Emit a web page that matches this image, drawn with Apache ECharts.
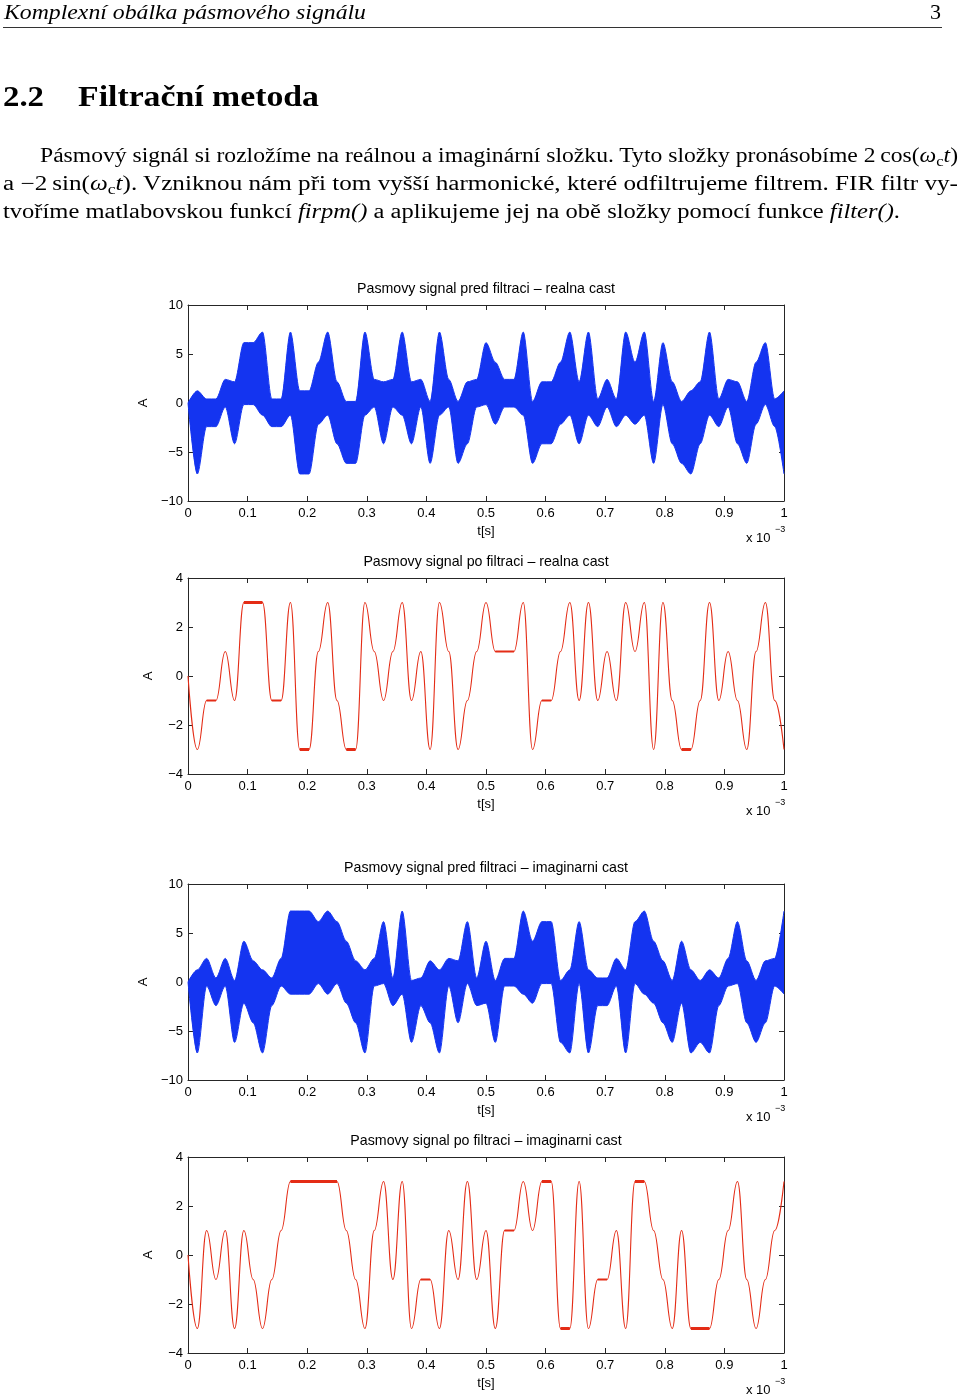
<!DOCTYPE html>
<html><head><meta charset="utf-8">
<script src="https://cdn.jsdelivr.net/npm/echarts@6/dist/echarts.min.js"></script>
<style>
html,body{margin:0;padding:0;background:#fff;}
#page{position:relative;width:960px;height:1396px;overflow:hidden;background:#fff;}
#chart{position:absolute;left:0;top:0;width:960px;height:1396px;}
.t{position:absolute;white-space:nowrap;font-family:"Liberation Serif","DejaVu Serif",serif;color:#000;line-height:1;}
.t sub{font-size:70%;vertical-align:-0.25em;line-height:0;}
</style></head>
<body><div id="page"><div id="chart"></div>
<div class="t" id="hdr" style="font-style:italic">Komplexní obálka pásmového signálu</div>
<div class="t" id="pnum">3</div>
<div id="rule" style="position:absolute;left:3px;top:27px;width:939px;height:1px;background:#333"></div>
<div class="t" id="secnum" style="font-weight:bold">2.2</div>
<div class="t" id="sectitle" style="font-weight:bold">Filtrační metoda</div>
<div class="t" id="p1">Pásmový signál si rozložíme na reálnou a imaginární složku. Tyto složky pronásobíme 2&#8201;cos(<i>ω</i><sub>c</sub><i>t</i>)</div>
<div class="t" id="p2">a −2&#8201;sin(<i>ω</i><sub>c</sub><i>t</i>). Vzniknou nám při tom vyšší harmonické, které odfiltrujeme filtrem. FIR filtr vy-</div>
<div class="t" id="p3">tvoříme matlabovskou funkcí <i>firpm()</i> a aplikujeme jej na obě složky pomocí funkce <i>filter()</i>.</div>
</div>
<script>
// ---------------- DATA ----------------
// symbol instants (x axis in units of 1e-3 s), 64 symbols per ms, index 0 = start
const symbolCount = 64;
// filtered real part (I) at each symbol instant
const realSymbols = [0,
 -3,-1,-1, 1,-1, 3, 3, 3,-1,-1, 3,-3,-3, 1, 3,-1,
 -3,-3, 3, 1,-1, 1, 3,-1, 1,-3, 3, 1,-3,-1, 1, 3,
  1, 1, 1, 3,-3,-1,-1, 1, 3,-1, 3,-1, 1,-1, 3, 1,
  3,-3, 3,-1,-3,-3,-1, 3,-1, 1,-1,-3, 1, 3,-1,-3];
// filtered imaginary part (Q) at each symbol instant
const imagSymbols = [0,
 -3, 1,-1, 1,-3, 1,-1,-3,-1, 1, 3, 3, 3, 3, 3, 3,
  1,-1,-3, 1, 3,-1, 3,-3,-1,-1,-3, 1,-1, 3,-1, 1,
 -3, 1, 1, 3, 1, 3, 3,-3,-3, 3,-3,-1,-1, 1,-3, 3,
  3, 1,-1,-3, 1,-3,-3,-3,-1, 1, 3,-1,-3,-1, 1, 3];
// band signal before filtering, real part: upper / lower edge of the filled band
const realUpper = [0,
 1.24,0.41,0.41,2.41,2.16,6.16,6.16,7.24,0.41,0.41,7.24,1.24,1.24,4.16,7.24,2.16,
 0.16,0.16,7.24,2.41,2.16,2.41,7.24,2.16,2.41,0.16,7.24,2.41,0.16,2.16,2.41,6.16,
 4.16,2.41,2.41,7.24,0.16,2.16,2.16,4.16,7.24,2.16,7.24,0.41,2.41,0.41,7.24,4.16,
 7.24,0.16,6.16,2.16,0.16,1.24,2.16,7.24,0.41,2.41,2.16,0.16,4.16,6.16,0.41,1.24];
const realLower = [0,
 -7.24,-2.41,-2.41,-0.41,-4.16,-0.16,-0.16,-1.24,-2.41,-2.41,-1.24,-7.24,-7.24,-2.16,-1.24,-4.16,
 -6.16,-6.16,-1.24,-0.41,-4.16,-0.41,-1.24,-4.16,-0.41,-6.16,-1.24,-0.41,-6.16,-4.16,-0.41,-0.16,
 -2.16,-0.41,-0.41,-1.24,-6.16,-4.16,-4.16,-2.16,-1.24,-4.16,-1.24,-2.41,-0.41,-2.41,-1.24,-2.16,
 -1.24,-6.16,-0.16,-4.16,-6.16,-7.24,-4.16,-1.24,-2.41,-0.41,-4.16,-6.16,-2.16,-0.16,-2.41,-7.24];
// band signal before filtering, imaginary part
const imagUpper = [0,
 1.24,2.41,0.41,2.41,0.16,4.16,2.16,1.24,0.41,2.41,7.24,7.24,7.24,6.16,7.24,6.16,
 4.16,2.16,1.24,2.41,6.16,0.41,7.24,0.16,0.41,2.16,1.24,2.41,2.16,6.16,0.41,4.16,
 0.16,2.41,2.41,7.24,4.16,6.16,6.16,0.16,1.24,6.16,1.24,0.41,0.41,2.41,1.24,6.16,
 7.24,4.16,2.16,0.16,4.16,1.24,0.16,1.24,0.41,2.41,6.16,2.16,0.16,2.16,2.41,7.24];
const imagLower = [0,
 -7.24,-0.41,-2.41,-0.41,-6.16,-2.16,-4.16,-7.24,-2.41,-0.41,-1.24,-1.24,-1.24,-0.16,-1.24,-0.16,
 -2.16,-4.16,-7.24,-0.41,-0.16,-2.41,-1.24,-6.16,-2.41,-4.16,-7.24,-0.41,-4.16,-0.16,-2.41,-2.16,
 -6.16,-0.41,-0.41,-1.24,-2.16,-0.16,-0.16,-6.16,-7.24,-0.16,-7.24,-2.41,-2.41,-0.41,-7.24,-0.16,
 -1.24,-2.16,-4.16,-6.16,-2.16,-7.24,-6.16,-7.24,-2.41,-0.41,-0.16,-4.16,-6.16,-4.16,-0.41,-1.24];
// axis ticks
const xAxisTicks = {min: 0, max: 1, interval: 0.1};
const yTicksBand = {min: -10, max: 10, interval: 5};
const yTicksFiltered = {min: -4, max: 4, interval: 2};
const plotTitles = [
  'Pasmovy signal pred filtraci – realna cast',
  'Pasmovy signal po filtraci – realna cast',
  'Pasmovy signal pred filtraci – imaginarni cast',
  'Pasmovy signal po filtraci – imaginarni cast'];
const xName = 't[s]';
const yName = 'A';

// ---------------- PAGE TEXT ----------------
function place(id, left, baseline, size, width) {
  const el = document.getElementById(id);
  el.style.transform = '';
  el.style.fontSize = size + 'px';
  el.style.left = left + 'px';
  el.style.top = (baseline - 0.8375 * size) + 'px';
  const nat = el.getBoundingClientRect().width;
  el.style.transformOrigin = '0 0';
  el.style.transform = 'scaleX(' + (width / nat) + ')';
}
function layoutText() {
  place('hdr', 4, 19.5, 21, 362);
  place('pnum', 930, 19.5, 21, 11);
  place('secnum', 3, 106, 30, 41);
  place('sectitle', 78, 106, 30, 241);
  place('p1', 40, 162, 20.5, 918);
  place('p2', 3, 190, 20.5, 955);
  place('p3', 3, 218.5, 20.5, 897);
}

// ---------------- CHART ----------------
const chart = echarts.init(document.getElementById('chart'), null, {renderer: 'canvas'});
const gridTops = [305, 578, 884, 1157];
const gridLeft = 188, gridW = 596, gridH = 196;
const ink = '#262626';
const sans = '"Liberation Sans", Arial, Helvetica, sans-serif';
const minus = v => String(Math.round(v * 10) / 10).replace('-', '−');
const times = realSymbols.map((_, k) => k / symbolCount);
const pts = arr => arr.map((v, k) => [times[k], v]);
// segments where the filtered signal holds the same symbol (drawn with residual ripple, thicker)
function holdSegments(arr, absLevel) {
  const out = [];
  for (let k = 1; k < arr.length - 1; k++) {
    if (arr[k] === arr[k + 1] && Math.abs(arr[k]) === absLevel) {
      out.push([times[k], arr[k]], [times[k + 1], arr[k + 1]], [null, null]);
    }
  }
  return out;
}

const grids = [], xAxes = [], yAxes = [], series = [], graphics = [];
const yTicksPerPlot = [yTicksBand, yTicksFiltered, yTicksBand, yTicksFiltered];
gridTops.forEach((top, i) => {
  grids.push({left: gridLeft, top: top, width: gridW, height: gridH, containLabel: false});
  const line = {show: true, onZero: false, lineStyle: {color: ink, width: 1}};
  const tick = {show: true, inside: true, length: 5, lineStyle: {color: ink, width: 1}};
  xAxes.push({type: 'value', gridIndex: i, position: 'bottom', ...xAxisTicks,
    axisLine: line, axisTick: tick, splitLine: {show: false},
    axisLabel: {margin: 6, color: '#000', fontFamily: sans, fontSize: 13, formatter: minus},
    name: xName, nameLocation: 'middle', nameGap: 24,
    nameTextStyle: {color: '#000', fontFamily: sans, fontSize: 13}});
  xAxes.push({type: 'value', gridIndex: i, position: 'top', ...xAxisTicks,
    axisLine: line, axisTick: tick, splitLine: {show: false}, axisLabel: {show: false}});
  const yt = yTicksPerPlot[i];
  yAxes.push({type: 'value', gridIndex: i, position: 'left', ...yt,
    axisLine: line, axisTick: tick, splitLine: {show: false},
    axisLabel: {margin: 5, color: '#000', fontFamily: sans, fontSize: 13, formatter: minus},
    name: yName, nameLocation: 'middle', nameGap: 33, nameRotate: 90,
    nameTextStyle: {color: '#000', fontFamily: sans, fontSize: 13}});
  yAxes.push({type: 'value', gridIndex: i, position: 'right', ...yt,
    axisLine: line, axisTick: tick, splitLine: {show: false}, axisLabel: {show: false}});
  graphics.push({type: 'text', x: gridLeft + gridW / 2, y: top - 16, silent: true,
    style: {text: plotTitles[i], fill: '#000', font: '14.2px ' + sans, align: 'center', verticalAlign: 'middle'}});
  graphics.push({type: 'text', x: 746, y: top + gridH + 37, silent: true,
    style: {text: 'x 10', fill: '#000', font: '13px ' + sans, align: 'left', verticalAlign: 'middle'}});
  graphics.push({type: 'text', x: 775, y: top + gridH + 29, silent: true,
    style: {text: '−3', fill: '#000', font: '9px ' + sans, align: 'left', verticalAlign: 'middle'}});
});

const blue = '#1434f0', red = '#e42c16';
function bandSeries(idx, arr) {
  return {type: 'line', xAxisIndex: idx * 2, yAxisIndex: idx * 2, data: pts(arr),
    smooth: 0.3, smoothMonotone: 'x', showSymbol: false, symbol: 'none',
    lineStyle: {color: blue, width: 1}, areaStyle: {color: blue, opacity: 1, origin: 0},
    z: 3, animation: false};
}
function redSeries(idx, arr) {
  return {type: 'line', xAxisIndex: idx * 2, yAxisIndex: idx * 2, data: pts(arr),
    smooth: 0.45, smoothMonotone: 'x', showSymbol: false, symbol: 'none',
    lineStyle: {color: red, width: 1.1}, z: 3, animation: false};
}
function holdSeries(idx, arr, level, width) {
  return {type: 'line', xAxisIndex: idx * 2, yAxisIndex: idx * 2, data: holdSegments(arr, level),
    connectNulls: false, showSymbol: false, symbol: 'none',
    lineStyle: {color: red, width: width}, z: 4, animation: false};
}
series.push(bandSeries(0, realUpper), bandSeries(0, realLower));
series.push(redSeries(1, realSymbols), holdSeries(1, realSymbols, 3, 3.2), holdSeries(1, realSymbols, 1, 1.8));
series.push(bandSeries(2, imagUpper), bandSeries(2, imagLower));
series.push(redSeries(3, imagSymbols), holdSeries(3, imagSymbols, 3, 3.2), holdSeries(3, imagSymbols, 1, 1.8));

chart.setOption({
  animation: false,
  backgroundColor: 'transparent',
  grid: grids, xAxis: xAxes, yAxis: yAxes, series: series, graphic: graphics
});

layoutText();
if (document.fonts && document.fonts.ready) document.fonts.ready.then(layoutText);
</script>
</body></html>
